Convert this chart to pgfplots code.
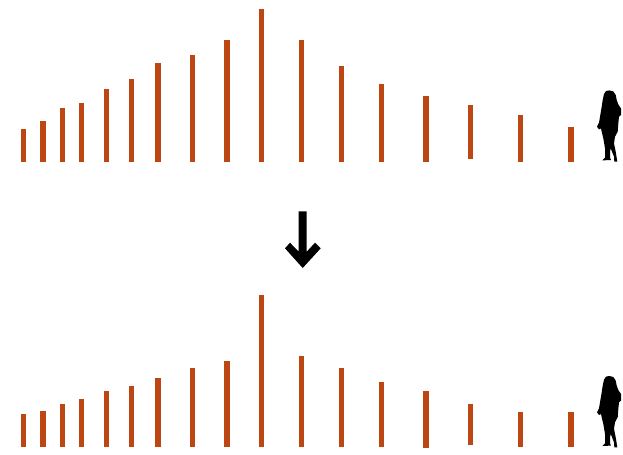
\documentclass[border=0pt]{standalone}
\usepackage{pgfplots}
\usepackage{pgfplotstable}
\pgfplotsset{compat=1.18}
\definecolor{BarColor}{RGB}{188,71,19}

% x, height above the base, length of the bar below its top
\pgfplotstableread{
x h len
23.7 32.7 32.7
43.0 40.4 40.4
62.3 53.4 53.4
81.7 58.4 58.4
106.3 72.4 72.4
131.3 82.4 82.4
158.0 98.7 98.7
192.7 106.4 106.4
227.0 121.4 121.4
261.3 152.4 152.4
301.7 121.4 121.4
341.7 95.7 95.7
381.7 78.0 78.0
426.0 65.4 65.7
470.7 56.4 54.0
520.7 46.4 46.4
571.0 35.0 35.0
}\topbars

\pgfplotstableread{
x h len
23.7 33.0 33.0
43.0 36.3 36.3
62.3 43.3 43.3
81.7 48.0 48.0
106.3 56.3 56.3
131.3 61.0 61.0
158.0 69.0 69.0
192.7 79.0 79.0
227.0 86.3 86.3
261.3 152.3 152.3
301.7 91.3 91.3
341.7 79.0 79.0
381.7 65.3 65.3
426.0 56.3 56.7
470.7 43.3 41.0
520.7 35.0 35.0
571.0 35.0 35.0
}\bottombars

% silhouette outline
\pgfplotstableread{
x y
609.3 71.3
613.3 70.3
615.7 66.7
616.7 61.7
618.3 57.3
621.0 53.3
621.0 46.7
619.0 45.0
618.3 38.3
617.7 30.0
616.7 28.3
615.0 25.0
614.0 18.3
615.7 10.0
617.3 0.0
614.3 0.0
614.0 5.0
610.7 13.3
610.0 10.0
610.0 4.0
611.0 1.7
602.3 1.3
605.0 4.0
605.0 13.3
603.3 23.3
601.7 30.0
601.0 33.3
599.0 32.3
597.0 35.0
599.0 39.0
600.0 45.0
601.7 55.0
602.7 61.7
604.0 67.7
606.0 70.7
609.3 71.3
}\person

\pgfplotsset{
    panel/.style={
        x=0.75pt, y=0.75pt, hide axis, clip=false,
        xmin=0, xmax=623, anchor=south west
    },
    spikes/.style={
        draw=none, mark=none,
        error bars/.cd, y dir=minus, y explicit, error mark=none,
        error bar style={line width=4pt, color=BarColor}
    },
}

\begin{document}
\begin{tikzpicture}
\path[use as bounding box] (0,0) rectangle (467.25pt,340.5pt);

\begin{axis}[panel, at={(0pt,215.475pt)}, ymin=-5, ymax=161.7]
  \addplot[spikes] table[x=x, y=h, y error minus=len] {\topbars};
  \addplot[fill=black, draw=none] table[x=x, y=y] {\person};
  % arrow between the panels
  \addplot[fill=black, draw=none] coordinates {
    (298.7,-49.6) (306.7,-49.6) (306.7,-90) (315,-81) (320.7,-86.6)
    (302.7,-106.3) (285,-86.6) (290,-81) (298.7,-90) (298.7,-49.6)
  };
\end{axis}

\begin{axis}[panel, at={(0pt,0pt)}, ymin=-6.7, ymax=160]
  \addplot[spikes] table[x=x, y=h, y error minus=len] {\bottombars};
  \addplot[fill=black, draw=none] table[x=x, y=y] {\person};
\end{axis}
\end{tikzpicture}
\end{document}
